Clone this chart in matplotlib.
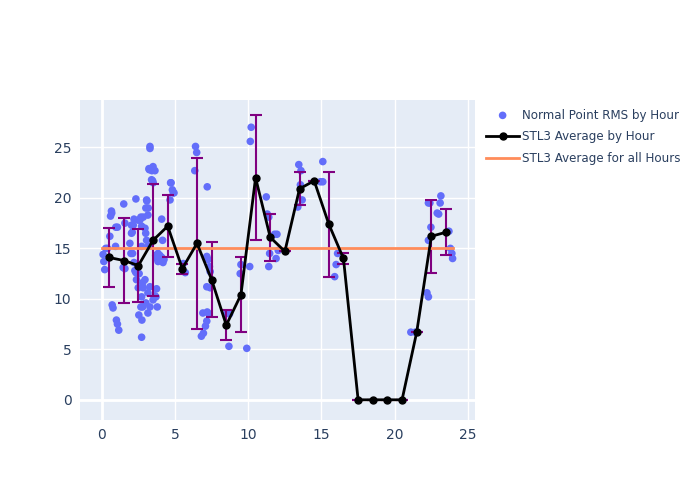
# Normal Point RMS por hora, con promedio por hora y promedio global
import matplotlib.pyplot as plt
import numpy as np

# Puntos individuales (hora, rms)
horas_pts = [
    0.09, 0.14, 0.2, 0.27, 0.39, 0.55, 0.6, 0.66, 0.68, 0.71, 0.77, 0.94, 0.96, 1.07,
    1.0, 1.07, 1.16, 1.46, 1.5, 1.58, 1.58, 1.92, 1.99, 2.03, 2.03, 2.08, 2.1, 2.15,
    2.2, 2.2, 2.26, 2.33, 2.33, 2.37, 2.49, 2.49, 2.53, 2.55, 2.6, 2.67, 2.67, 2.72,
    2.72, 2.72, 2.72, 2.74, 2.79, 2.79, 2.83, 2.83, 2.95, 2.95, 3.0, 3.01, 3.01, 3.06,
    3.06, 3.08, 3.15, 3.15, 3.15, 3.17, 3.17, 3.22, 3.24, 3.29, 3.29, 3.29, 3.29, 3.4,
    3.42, 3.47, 3.5, 3.5, 3.51, 3.63, 3.63, 3.68, 3.7, 3.74, 3.77, 3.79, 3.84, 3.84,
    3.97, 4.09, 4.1, 4.15, 4.18, 4.25, 4.66, 4.7, 4.73, 4.82, 4.88, 4.93, 5.57, 5.7,
    6.35, 6.4, 6.48, 6.8, 6.9, 6.94, 7.08, 7.17, 7.17, 7.17, 7.2, 7.2, 7.26, 7.33,
    7.35, 7.4, 7.4, 8.54, 8.68, 8.72, 9.45, 9.5, 9.9, 10.1, 10.14, 10.2, 11.23, 11.3,
    11.4, 11.4, 11.46, 11.8, 11.9, 11.96, 12.05, 13.38, 13.45, 13.56, 13.6, 13.68,
    14.93, 15.09, 15.09, 15.9, 16.0, 16.1, 21.1, 21.4, 22.2, 22.3, 22.3, 22.3, 22.4,
    22.47, 22.9, 23.0, 23.1, 23.15, 23.7, 23.8, 23.9, 23.95,
]
rms_pts = [
    14.4, 13.7, 12.9, 15.0, 15.0, 16.2, 18.2, 18.7, 18.5, 9.4, 9.1, 15.2, 17.1, 17.1,
    7.9, 7.5, 6.9, 13.1, 19.4, 17.5, 13.0, 15.5, 14.5, 16.5, 17.3, 16.6, 14.5, 17.3,
    13.6, 17.9, 12.8, 19.9, 12.6, 11.9, 17.8, 11.1, 8.4, 12.5, 17.8, 18.1, 9.2, 10.2,
    17.2, 15.2, 6.2, 7.9, 11.6, 9.2, 18.1, 11.1, 17.0, 11.9, 16.5, 19.0, 9.6, 19.8,
    15.8, 19.7, 18.3, 10.6, 8.6, 19.0, 15.2, 22.9, 22.8, 25.1, 24.9, 11.2, 9.2, 21.8,
    22.7, 21.7, 23.1, 9.9, 21.5, 22.7, 10.3, 14.3, 10.2, 11.0, 14.0, 9.2, 14.5, 13.7,
    14.3, 17.9, 14.1, 15.8, 13.6, 13.9, 19.8, 21.5, 21.5, 20.8, 20.5, 20.5, 13.5, 12.6,
    22.7, 25.1, 24.5, 6.3, 8.6, 6.6, 7.3, 14.2, 11.2, 7.8, 8.7, 21.1, 13.9, 8.5,
    13.2, 12.7, 11.1, 8.6, 5.3, 8.5, 12.5, 13.4, 5.1, 13.2, 25.6, 27.0, 20.1, 18.4,
    18.1, 13.2, 14.5, 16.4, 14.0, 16.4, 14.8, 19.1, 23.3, 21.3, 22.7, 19.8,
    21.6, 23.6, 21.6, 12.2, 13.4, 14.5, 6.7, 6.7, 10.6, 10.2, 15.8, 19.5, 19.5,
    17.1, 18.5, 18.4, 19.5, 20.2, 16.7, 15.0, 14.5, 14.0,
]

# Promedio por hora y desviación
horas_prom = np.arange(0.5, 24, 1.0)
rms_prom = [14.1, 13.8, 13.3, 15.8, 17.2, 13.0, 15.5, 11.9, 7.4, 10.4, 22.0, 16.1,
            14.7, 20.9, 21.7, 17.4, 14.0, 0, 0, 0, 0, 6.7, 16.2, 16.6]
rms_std = [2.95, 4.2, 3.6, 5.55, 3.1, 0.5, 8.45, 3.7, 1.5, 3.7, 6.2, 2.3,
           0, 1.65, 0, 5.2, 0.5, 0, 0, 0, 0, 0, 3.6, 2.3]

# Promedio global
promedio_total = 15.0
horas_total = [0, 24]

fig = plt.figure(figsize=(7, 5), dpi=100)
ax = fig.add_axes([0.114, 0.16, 0.565, 0.64])
ax.set_facecolor('#E5ECF6')

ax.scatter(horas_pts, rms_pts, s=30, color='#636EFA', edgecolors='none',
           label='Normal Point RMS by Hour', zorder=3)
ax.errorbar(horas_prom, rms_prom, yerr=rms_std, fmt='none', ecolor='#800080',
            elinewidth=1.5, capsize=4, capthick=1.5, zorder=4)
ax.plot(horas_prom, rms_prom, color='black', lw=2, marker='o', ms=5,
        label='STL3 Average by Hour', zorder=5)
ax.plot(horas_total, [promedio_total] * 2, color='#FF8C5A', lw=2,
        label='STL3 Average for all Hours', zorder=4)

ax.set_xlim(-1.5, 25.5)
ax.set_ylim(-2, 29.7)
ax.set_xticks([0, 5, 10, 15, 20, 25])
ax.set_yticks([0, 5, 10, 15, 20, 25])
ax.grid(color='white', lw=1)
ax.axhline(0, color='white', lw=2, zorder=1)
ax.axvline(0, color='white', lw=2, zorder=1)
ax.set_axisbelow(True)
for s in ax.spines.values():
    s.set_visible(False)
ax.tick_params(length=0, labelsize=10, colors='#2a3f5f', pad=6)

fig.legend(*ax.get_legend_handles_labels(), loc='upper left',
           bbox_to_anchor=(0.695, 0.783), frameon=False, fontsize=8.6,
           labelcolor='#2a3f5f', handlelength=2.7, handletextpad=0.3,
           borderaxespad=0, borderpad=0, labelspacing=0.75)

fig.savefig('out.png')
